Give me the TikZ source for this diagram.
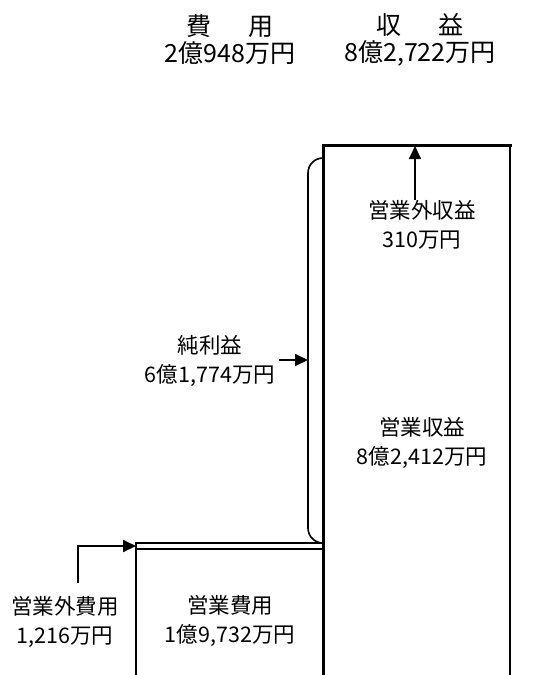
\documentclass[tikz,border=0pt]{standalone}
\usepackage{fontspec}
\setmainfont{Noto Sans CJK JP}
\usetikzlibrary{arrows.meta}
\tikzset{
	lbl/.style={align=center, font=\fontsize{21.5}{29}\selectfont, inner sep=0pt},
	head/.style={align=center, font=\fontsize{25}{27}\selectfont, inner sep=0pt},
	pointer/.style={line width=1.8pt, -{Triangle[length=13pt,width=12pt]}},
}
\begin{document}
\begin{tikzpicture}[x=1pt, y=-1pt]
		%%%%% START %%%%%
		\useasboundingbox (0, 0) rectangle (546, 675);
		
		\node[head] (costhead) at (230, 40) {費\hspace{1.5em}用\\2億948万円};
		\node[head] (revhead) at (420, 40) {収\hspace{1.5em}益\\8億2,722万円};
		
		% right column
		\draw[line width=1.8pt] (510, 145) -- (510, 675);
		\draw[line width=3pt] (323, 145) -- (323, 675);
		\draw[line width=3pt, line cap=rect] (323, 145) -- (510, 145);
		
		% left column
		\draw[line width=1.6pt] (136, 543) rectangle (323, 549);
		\draw[line width=1.8pt] (136, 549) -- (136, 675);
		
		% brace of the net profit
		\draw[line width=1.6pt, rounded corners=15pt] (323, 158) -- (308, 158) -- (308, 543) -- (323, 543);
		
		\node[lbl] (otherrev) at (422, 225) {営業外収益\\310万円};
		\node[lbl] (mainrev) at (422, 443) {営業収益\\8億2,412万円};
		\node[lbl] (netprofit) at (210, 361) {純利益\\6億1,774万円};
		\node[lbl] (mainexp) at (230, 621) {営業費用\\1億9,732万円};
		\node[lbl] (otherexp) at (65, 622) {営業外費用\\1,216万円};
		
		\coordinate (revtop) at (415, 146);
		\coordinate (bracemid) at (308, 360);
		\coordinate (expfoot) at (78, 583);
		\coordinate (elbow) at (78, 546);
		\coordinate (costtop) at (136, 546);
		
		\draw[pointer] (otherrev.north -| revtop) -- (revtop);
		\draw[pointer] ([xshift=4pt]bracemid -| netprofit.east) -- (bracemid);
		\draw[pointer] (expfoot) -- (elbow) -- (costtop);
		
		%%%%% END %%%%%
\end{tikzpicture}
\end{document}
